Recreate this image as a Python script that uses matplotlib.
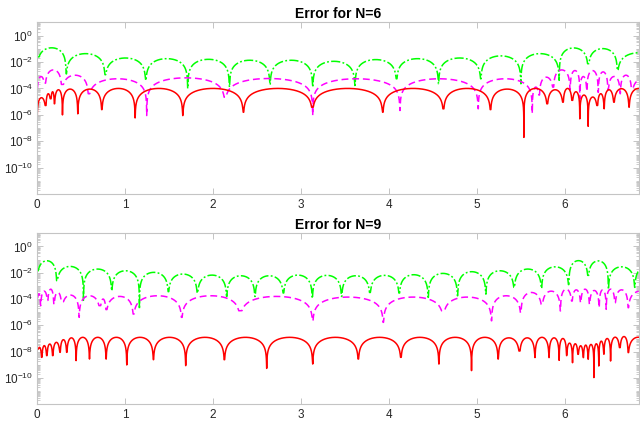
import numpy as np
import matplotlib
matplotlib.use("agg")
from matplotlib import pyplot as plt
from matplotlib.ticker import FixedLocator, LogLocator, NullFormatter

plt.rcParams['font.family'] = ['Liberation Sans', 'DejaVu Sans']
plt.rcParams['mathtext.fontset'] = 'custom'
plt.rcParams['mathtext.rm'] = 'Liberation Sans'
plt.rcParams['mathtext.it'] = 'Liberation Sans:italic'
plt.rcParams['mathtext.bf'] = 'Liberation Sans:bold'

# x range of both panels
x_end = 6.84

# each curve: positions of the cusps (x), log10 value at each cusp,
# log10 value at the top of each arch between two cusps
# ---- N=6 ----
green6_dips = [0.0, 0.33, 0.773, 1.235, 1.712, 2.186, 2.648, 3.133, 3.614, 4.087, 4.564,
               5.045, 5.5, 5.936, 6.265, 6.598, 7.1]
green6_depth = [-1.62, -2.9, -2.96, -3.4, -4.0, -3.9, -3.72, -3.9, -3.9, -3.27, -3.65,
                -3.27, -3.65, -3.39, -2.13, -2.63, -2.0]
green6_peak = [-0.93, -1.37, -1.7, -1.75, -1.8, -1.87, -1.87, -1.95, -1.82, -1.75, -1.7,
               -1.54, -1.37, -0.94, -0.99, -1.3]

magenta6_dips = [0.0, 0.09, 0.28, 0.583, 1.246, 2.136, 3.133, 4.125, 5.015, 5.63, 5.71,
                 5.87, 6.06, 6.17, 6.25, 6.38, 6.49, 6.63, 6.76, 7.0]
magenta6_depth = [-4.0, -3.6, -3.7, -4.4, -6.05, -4.66, -6.05, -5.67, -5.54, -5.9, -4.5,
                  -3.9, -4.1, -4.8, -4.2, -4.3, -4.1, -4.4, -4.0, -3.5]
magenta6_peak = [-3.1, -2.6, -3.0, -3.27, -3.2, -3.25, -3.27, -3.27, -3.27, -3.9, -3.15,
                 -2.6, -2.65, -3.1, -2.65, -2.75, -3.1, -3.0, -3.3]

red6_dips = [0.0, 0.099, 0.155, 0.197, 0.288, 0.462, 0.735, 1.114, 1.656, 2.345, 3.13,
             3.93, 4.62, 5.155, 5.534, 5.80, 5.98, 6.083, 6.17, 6.265, 6.37, 6.447, 6.557,
             6.73, 6.95]
red6_depth = [-6.55, -5.29, -4.78, -5.16, -6.0, -5.92, -5.6, -6.23, -6.05, -5.8, -5.42,
              -5.8, -5.54, -5.6, -7.7, -5.16, -5.04, -4.9, -6.3, -6.86, -5.29, -5.54, -5.04,
              -5.42, -4.5]
red6_peak = [-4.7, -4.4, -4.25, -4.1, -4.05, -4.05, -4.0, -4.0, -4.0, -4.0, -4.0, -4.0,
             -4.0, -4.05, -4.0, -4.1, -4.0, -4.25, -4.5, -4.65, -4.4, -4.1, -4.02, -4.0]

# ---- N=9 ----
green9_dips = [0.0, 0.223, 0.527, 0.848, 1.163, 1.492, 1.822, 2.155, 2.477, 2.8, 3.129,
               3.462, 3.784, 4.117, 4.447, 4.78, 5.102, 5.424, 5.735, 6.045, 6.265, 6.495,
               6.795, 7.1]
green9_depth = [-1.85, -2.6, -4.1, -3.37, -4.76, -3.44, -3.54, -3.8, -3.8, -3.54, -3.95,
                -3.8, -3.5, -3.54, -3.87, -3.75, -3.62, -3.11, -3.19, -2.9, -2.2, -3.25,
                -3.11, -2.0]
green9_peak = [-1.09, -1.52, -1.72, -1.85, -1.97, -2.1, -2.18, -2.23, -2.23, -2.18, -2.2,
               -2.23, -2.2, -2.15, -2.05, -1.92, -1.85, -1.72, -1.55, -1.08, -1.1, -1.55,
               -1.5]

magenta9_dips = [0.0, 0.04, 0.12, 0.19, 0.28, 0.477, 0.716, 0.784, 1.095, 1.644, 2.307,
                 3.133, 3.936, 4.617, 5.167, 5.5, 5.74, 5.95, 6.08, 6.18, 6.28, 6.39, 6.47,
                 6.57, 6.72, 7.0]
magenta9_depth = [-3.9, -4.5, -4.1, -4.4, -4.2, -5.39, -4.5, -4.8, -5.14, -5.39, -4.89,
                  -5.65, -5.77, -4.89, -5.65, -5.04, -4.4, -4.9, -4.15, -4.28, -4.4, -4.66,
                  -4.78, -4.28, -4.66, -3.6]
magenta9_peak = [-3.6, -3.4, -3.25, -3.5, -3.7, -3.75, -4.0, -3.8, -3.75, -3.75, -3.8,
                 -3.85, -3.85, -3.85, -3.75, -3.5, -3.4, -3.25, -3.3, -3.25, -3.35, -3.3,
                 -3.25, -3.3, -3.4]

red9_dips = [0.0, 0.053, 0.11, 0.178, 0.261, 0.337, 0.443, 0.595, 0.784, 1.019, 1.322,
             1.689, 2.129, 2.61, 3.133, 3.652, 4.136, 4.568, 4.939, 5.242, 5.485, 5.66,
             5.82, 5.935, 6.02, 6.087, 6.15, 6.21, 6.265, 6.33, 6.386, 6.443, 6.52, 6.625,
             6.72, 6.95]
red9_depth = [-7.8, -8.43, -8.3, -8.3, -8.05, -8.05, -8.68, -8.56, -8.56, -9.01, -8.61,
              -9.06, -8.61, -9.27, -8.94, -8.56, -8.43, -8.94, -9.44, -8.56, -7.95, -8.45,
              -8.45, -8.66, -8.3, -8.84, -8.2, -8.45, -8.58, -9.97, -9.09, -8.2, -8.71,
              -7.69, -8.07, -7.2]
red9_peak = [-7.67, -7.54, -7.42, -7.29, -7.09, -6.95, -6.91, -6.91, -6.91, -6.91, -6.91,
             -6.91, -6.91, -6.91, -6.91, -6.91, -6.91, -6.91, -6.91, -6.95, -6.95, -6.91,
             -6.95, -7.0, -7.35, -7.4, -7.55, -7.5, -7.45, -7.4, -7.2, -7.0, -6.9, -6.85,
             -6.9]

y_ticks = [1e-10, 1e-8, 1e-6, 1e-4, 1e-2, 1e0]
y_labels = [r'$10^{-10}$', r'$10^{-8}$', r'$10^{-6}$', r'$10^{-4}$', r'$10^{-2}$', r'$10^{0}$']
x_ticks = [0, 1, 2, 3, 4, 5, 6]


def arches(dips, depth, peak):
    # rebuild a curve of |error|-like arches between the cusps
    dips = np.asarray(dips)
    depth = np.asarray(depth)
    peak = np.asarray(peak)
    xs = np.linspace(0, x_end, 5000)
    xs = np.union1d(xs, dips[(dips >= 0) & (dips <= x_end)])
    i = np.clip(np.searchsorted(dips, xs, side='right') - 1, 0, len(peak) - 1)
    a, b = dips[i], dips[i + 1]
    t = (xs - a) / (b - a)
    ylog = peak[i] + np.log10(np.maximum(np.sin(np.pi * t), 1e-14))
    floor = np.where(t < 0.5, depth[i], depth[i + 1])
    return xs, 10 ** np.maximum(ylog, floor)


panels = [
    ('Error for N=6', [0.058, 0.5385, 0.940, 0.4086],
     (green6_dips, green6_depth, green6_peak),
     (magenta6_dips, magenta6_depth, magenta6_peak),
     (red6_dips, red6_depth, red6_peak)),
    ('Error for N=9', [0.058, 0.0397, 0.940, 0.4062],
     (green9_dips, green9_depth, green9_peak),
     (magenta9_dips, magenta9_depth, magenta9_peak),
     (red9_dips, red9_depth, red9_peak)),
]

fig = plt.figure(figsize=(6.4, 4.21), dpi=100)
edge = '#c4c4c4'

for title, pos, g, m, r in panels:
    ax = fig.add_axes(pos)
    x, y = arches(*g)
    ax.plot(x, y, color='#00ff00', lw=1.1, ls=(0, (6, 1.5, 1.2, 1.5)))
    x, y = arches(*m)
    ax.plot(x, y, color='#ff00ff', lw=1.1, ls=(0, (4.5, 2.5)))
    x, y = arches(*r)
    ax.plot(x, y, color='#ff0000', lw=1.1)

    ax.set_yscale('log')
    ax.set_xlim(0, x_end)
    ax.set_ylim(1e-12, 1e1)
    ax.yaxis.set_major_locator(FixedLocator(y_ticks))
    ax.set_yticklabels(y_labels)
    ax.yaxis.set_minor_locator(LogLocator(base=10, subs=np.arange(1, 10), numticks=100))
    ax.yaxis.set_minor_formatter(NullFormatter())
    ax.set_xticks(x_ticks)
    ax.set_xticklabels([str(v) for v in x_ticks])

    for s in ax.spines.values():
        s.set_color(edge)
        s.set_linewidth(0.8)
    ax.tick_params(which='both', direction='in', top=True, right=True, color=edge,
                   labelcolor='#262626', labelsize=8.5, pad=3)
    ax.tick_params(which='major', length=4, width=0.7)
    ax.tick_params(which='minor', length=2.2, width=0.6)
    ax.tick_params(axis='x', pad=3.5)
    ax.set_title(title, fontsize=10, fontweight='bold', pad=3)

fig.savefig('out.png', dpi=100)
